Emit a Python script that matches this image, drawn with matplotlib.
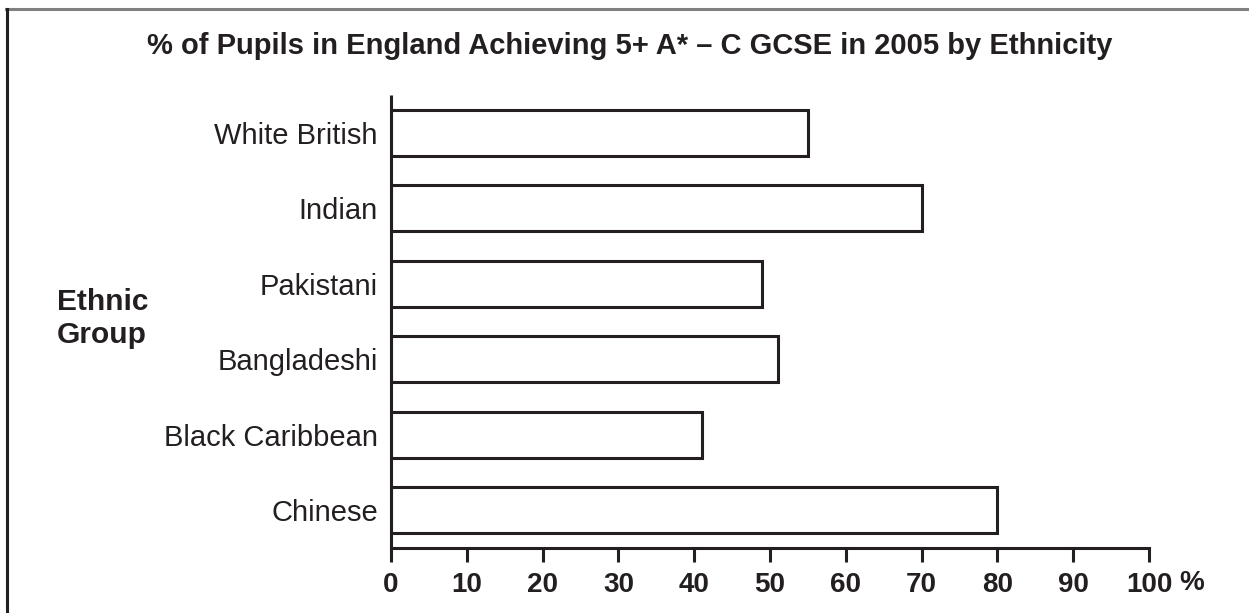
import matplotlib.pyplot as plt
from matplotlib.lines import Line2D

# data
groups = ["White British", "Indian", "Pakistani", "Bangladeshi", "Black Caribbean", "Chinese"]
percent = [55, 70, 49, 51, 41, 80]
xticks = [0, 10, 20, 30, 40, 50, 60, 70, 80, 90, 100]
xticklabels = ["0", "10", "20", "30", "40", "50", "60", "70", "80", "90", "100"]

plt.rcParams['font.family'] = ['Liberation Sans', 'DejaVu Sans']
ink = '#231f20'

fig = plt.figure(figsize=(12.49, 6.13), dpi=100)
ax = fig.add_axes([391/1249, 1 - 548/613, (1149 - 391)/1249, (548 - 95)/613])

pos = list(range(len(groups)))
ax.barh(pos, percent, height=0.61, color='white', edgecolor=ink, linewidth=2.2)

ax.set_xlim(0, 100)
ax.set_ylim(len(groups) - 0.5, -0.5)
ax.set_yticks(pos)
ax.set_yticklabels(groups, fontsize=21, color=ink)
ax.set_xticks(xticks)
ax.set_xticklabels(xticklabels, fontsize=20, fontweight='bold', color=ink)
ax.tick_params(axis='y', length=0, pad=9.5)
ax.tick_params(axis='x', length=10, width=2.2, color=ink, pad=7)

for s in ['top', 'right']:
    ax.spines[s].set_visible(False)
for s in ['left', 'bottom']:
    ax.spines[s].set_linewidth(2.2)
    ax.spines[s].set_color(ink)
ax.spines['left'].set_capstyle('butt')

ax.annotate("%", xy=(100, 0), xycoords=('data', 'axes fraction'),
            xytext=(22, -25.5), textcoords='offset points',
            ha='left', va='center', fontsize=20, fontweight='bold', color=ink)

fig.text(630/1249, 1 - 54/613, "% of Pupils in England Achieving 5+ A* \u2013 C GCSE in 2005 by Ethnicity",
         ha='center', va='baseline', fontsize=21, fontweight='bold', color=ink)
fig.text(57/1249, 1 - 310/613, "Ethnic", ha='left', va='baseline',
         fontsize=21.5, fontweight='bold', color=ink)
fig.text(57/1249, 1 - 343/613, "Group", ha='left', va='baseline',
         fontsize=21.5, fontweight='bold', color=ink)

# frame around the figure (top and left only, as in the source)
fig.add_artist(Line2D([6/1249, 1], [1 - 8.5/613, 1 - 8.5/613], color='#808080', linewidth=2.2))
fig.add_artist(Line2D([6.5/1249, 6.5/1249], [0, 1 - 8.5/613], color=ink, linewidth=2.2))

fig.savefig("out.png", dpi=100)
